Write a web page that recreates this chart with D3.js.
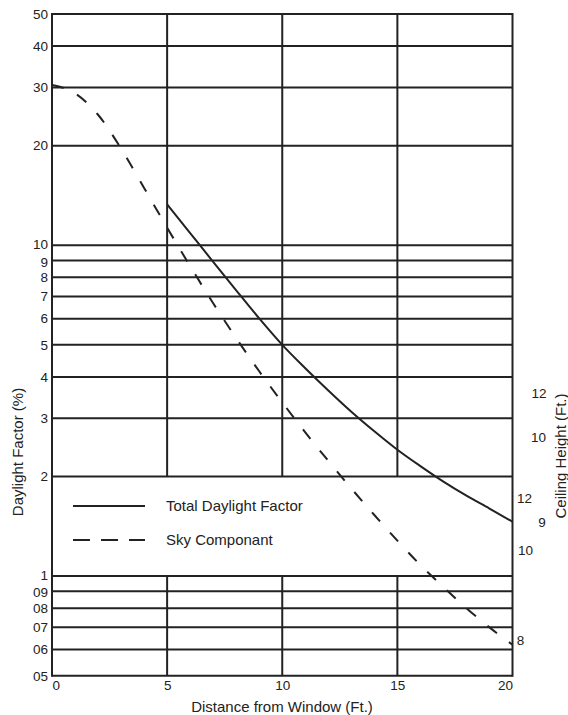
<!DOCTYPE html>
<html>
<head>
<meta charset="utf-8">
<script src="https://cdn.jsdelivr.net/npm/d3@7"></script>
<style>
  html, body { margin: 0; padding: 0; background: #fff; }
  svg { display: block; }
  text { font-family: "Liberation Sans", Arial, sans-serif; fill: #222; }
</style>
</head>
<body>
<svg id="chart" width="568" height="715"></svg>
<script>
// ---- data ----
const yTickValues = [50, 40, 30, 20, 10, 9, 8, 7, 6, 5, 4, 3, 2, 1, 0.9, 0.8, 0.7, 0.6, 0.5];
const yTickLabels = ["50", "40", "30", "20", "10", "9", "8", "7", "6", "5", "4", "3", "2", "1", "09", "08", "07", "06", "05"];
const xTickValues = [0, 5, 10, 15, 20];
const xTickLabels = ["0", "5", "10", "15", "20"];

const totalX = [5, 6, 7, 8, 9, 10, 11, 12, 13, 14, 15, 16, 17, 18, 19, 20];
const totalY = [13.3, 10.89, 8.91, 7.31, 6.01, 5.0, 4.25, 3.64, 3.14, 2.74, 2.41, 2.15, 1.93, 1.75, 1.6, 1.46];

const skyX = [0, 1, 2, 3, 4, 5, 6, 7, 8, 9, 10, 11, 12, 13, 14, 15, 16, 17, 18, 19, 20];
const skyY = [30.5, 28.8, 24.8, 19.6, 14.9, 11.3, 8.65, 6.68, 5.24, 4.16, 3.35, 2.72, 2.23, 1.84, 1.53, 1.28, 1.08, 0.927, 0.8, 0.7, 0.62];

const ceilingText = ["12", "10", "12", "9", "10", "8"];
const ceilingValue = [3.58, 2.63, 1.72, 1.45, 1.20, 0.64];

const seriesNames = ["Total Daylight Factor", "Sky Componant"];

// ---- layout ----
const svg = d3.select("#chart");
const x = d3.scaleLinear().domain([0, 20]).range([52, 512.5]);
const y = d3.scaleLog().domain([0.5, 50]).range([675.7, 14]);
const ink = "#222";
const FS = "15px";
const TFS = "13.5px";

// horizontal grid
svg.append("g").selectAll("line").data(yTickValues).join("line")
  .attr("x1", x(0)).attr("x2", x(20))
  .attr("y1", d => y(d)).attr("y2", d => y(d))
  .attr("stroke", ink).attr("stroke-width", 2);

// vertical grid: upper block (2..50) and lower block (0.5..1)
const innerX = xTickValues.slice(1, -1);
const vg = svg.append("g");
vg.selectAll("line.up").data(innerX).join("line").attr("class", "up")
  .attr("x1", d => x(d)).attr("x2", d => x(d))
  .attr("y1", y(50)).attr("y2", y(2))
  .attr("stroke", ink).attr("stroke-width", 2);
vg.selectAll("line.lo").data(innerX).join("line").attr("class", "lo")
  .attr("x1", d => x(d)).attr("x2", d => x(d))
  .attr("y1", y(1)).attr("y2", y(0.5))
  .attr("stroke", ink).attr("stroke-width", 2);
vg.selectAll("line.border").data([0, 20]).join("line").attr("class", "border")
  .attr("x1", d => x(d)).attr("x2", d => x(d))
  .attr("y1", y(50) - 1).attr("y2", y(0.5) + 1)
  .attr("stroke", ink).attr("stroke-width", 2);

// y axis labels (tight pairs nudged apart slightly)
const nudge = { "10": -1.5, "9": 1.5, "1": -1.2, "09": 1.2 };
const yAxis = svg.append("g").attr("transform", `translate(${x(0)},0)`)
  .call(d3.axisLeft(y).tickValues(yTickValues).tickFormat((d, i) => yTickLabels[i]).tickSize(0).tickPadding(4));
yAxis.select(".domain").remove();
yAxis.selectAll("text")
  .style("font-size", TFS).style("font-family", "Liberation Sans, Arial, sans-serif").attr("fill", ink)
  .attr("y", (d, i) => nudge[yTickLabels[i]] || 0);

// x axis labels
const xAxis = svg.append("g").attr("transform", `translate(0,${y(0.5)})`)
  .call(d3.axisBottom(x).tickValues(xTickValues).tickFormat((d, i) => xTickLabels[i]).tickSize(0).tickPadding(5));
xAxis.select(".domain").remove();
xAxis.selectAll("text").style("font-size", TFS).style("font-family", "Liberation Sans, Arial, sans-serif").attr("fill", ink)
  .attr("text-anchor", (d, i) => i === 0 ? "start" : (i === xTickValues.length - 1 ? "end" : "middle"));

// curves
const line = d3.line().x(d => x(d[0])).y(d => y(d[1])).curve(d3.curveMonotoneX);
svg.append("path").datum(totalX.map((v, i) => [v, totalY[i]]))
  .attr("d", line).attr("fill", "none").attr("stroke", ink).attr("stroke-width", 2);
svg.append("path").datum(skyX.map((v, i) => [v, skyY[i]]))
  .attr("d", line).attr("fill", "none").attr("stroke", ink).attr("stroke-width", 2)
  .attr("stroke-dasharray", "12,15");

// legend
const lg = svg.append("g");
[0, 1].forEach(i => {
  const ly = 506 + i * 34;
  lg.append("line").attr("x1", 73).attr("x2", 145).attr("y1", ly).attr("y2", ly)
    .attr("stroke", ink).attr("stroke-width", 2)
    .attr("stroke-dasharray", i === 1 ? "17,11" : null);
  lg.append("text").attr("x", 166).attr("y", ly + 5).style("font-size", FS).text(seriesNames[i]);
});

// ceiling height labels
const ceilOffsets = [26.5, 26, 12, 29.5, 13, 8];
svg.append("g").selectAll("text").data(ceilingText).join("text")
  .attr("x", (d, i) => x(20) + ceilOffsets[i])
  .attr("y", (d, i) => y(ceilingValue[i]))
  .attr("dy", "0.35em").attr("text-anchor", "middle").style("font-size", TFS)
  .text(d => d);

// axis titles
svg.append("text").attr("transform", "translate(23,452) rotate(-90)")
  .attr("text-anchor", "middle").style("font-size", FS).text("Daylight Factor (%)");
svg.append("text").attr("transform", "translate(566,456) rotate(-90)")
  .attr("text-anchor", "middle").style("font-size", FS).text("Ceiling Height (Ft.)");
svg.append("text").attr("x", 282).attr("y", 712)
  .attr("text-anchor", "middle").style("font-size", FS).text("Distance from Window (Ft.)");
</script>
</body>
</html>
